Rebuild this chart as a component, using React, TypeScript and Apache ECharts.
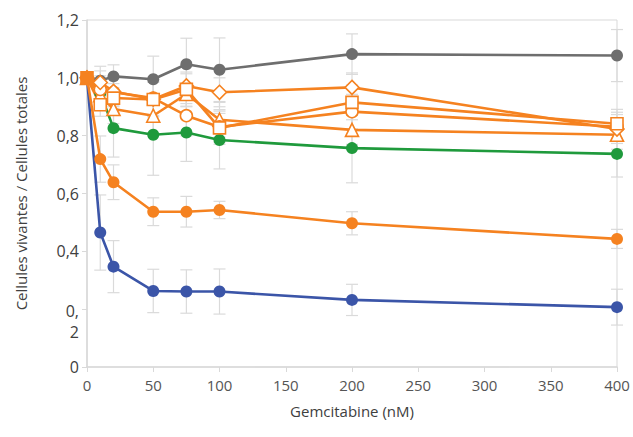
import React, { useEffect, useRef } from "react";
import * as echarts from "echarts";

const doses = [0, 10, 20, 50, 75, 100, 200, 400];
const yTickLabels: Record<string, string> = { "0": "0", "0.2": "0,\n2", "0.4": "0,4", "0.6": "0,6", "0.8": "0,8", "1": "1,0", "1.2": "1,2" };

const blueVals = [1.0, 0.465, 0.347, 0.263, 0.261, 0.261, 0.232, 0.207];
const blueErr = [0, 0.13, 0.09, 0.075, 0.075, 0.078, 0.054, 0.062];
const orangeVals = [1.0, 0.719, 0.639, 0.537, 0.537, 0.543, 0.497, 0.443];
const orangeErr = [0, 0.08, 0.06, 0.048, 0.053, 0.03, 0.04, 0.033];
const greenVals = [1.0, 0.947, 0.826, 0.803, 0.811, 0.785, 0.757, 0.737];
const greenErr = [0, 0.06, 0.1, 0.14, 0.1, 0.1, 0.12, 0.08];
const grayVals = [1.0, 0.99, 1.005, 0.995, 1.047, 1.028, 1.082, 1.077];
const grayErr = [0, 0.05, 0.04, 0.08, 0.09, 0.11, 0.07, 0.09];
const diamondVals = [1.0, 0.984, 0.953, 0.926, 0.972, 0.95, 0.967, 0.823];
const diamondErr = [0, 0.04, 0.05, 0.06, 0.07, 0.05, 0.05, 0.05];
const squareVals = [1.0, 0.907, 0.93, 0.925, 0.96, 0.827, 0.915, 0.841];
const squareErr = [0, 0.04, 0.05, 0.06, 0.06, 0.05, 0.06, 0.05];
const circleVals = [1.0, 0.96, 0.95, 0.93, 0.869, 0.83, 0.883, 0.831];
const circleErr = [0, 0.04, 0.05, 0.06, 0.07, 0.06, 0.06, 0.05];
const triangleVals = [1.0, 0.94, 0.892, 0.869, 0.944, 0.855, 0.82, 0.803];
const triangleErr = [0, 0.04, 0.05, 0.06, 0.07, 0.06, 0.05, 0.05];

const ORANGE = "#f58220";
const BLUE = "#3b55a8";
const GREEN = "#1f9a3c";
const GRAY = "#6e6e6e";
const ERR = "#dadada";

function errSeries(vals: number[], errs: number[]) {
  return {
    type: "custom",
    z: 1,
    silent: true,
    data: doses.map((d, i) => [d, vals[i] - errs[i], vals[i] + errs[i]]),
    renderItem: (params: any, api: any) => {
      const x = api.value(0);
      const lo = api.coord([x, api.value(1)]);
      const hi = api.coord([x, api.value(2)]);
      const hw = 6;
      const style = { stroke: ERR, lineWidth: 1.2 };
      return {
        type: "group",
        children: [
          { type: "line", shape: { x1: lo[0], y1: lo[1], x2: hi[0], y2: hi[1] }, style },
          { type: "line", shape: { x1: lo[0] - hw, y1: lo[1], x2: lo[0] + hw, y2: lo[1] }, style },
          { type: "line", shape: { x1: hi[0] - hw, y1: hi[1], x2: hi[0] + hw, y2: hi[1] }, style },
        ],
      };
    },
  };
}

function lineSeries(vals: number[], color: string, symbol: string, filled: boolean, size: number, firstFilled = false) {
  return {
    type: "line",
    z: 3,
    data: doses.map((d, i) => {
      const item: any = { value: [d, vals[i]] };
      if (firstFilled && i === 0) item.itemStyle = { color: color, borderColor: color };
      return item;
    }),
    symbol,
    symbolSize: size,
    showSymbol: true,
    lineStyle: { color, width: 2.6 },
    itemStyle: filled
      ? { color, borderColor: color, borderWidth: 0 }
      : { color: "#ffffff", borderColor: color, borderWidth: 1.6 },
  };
}

export default function App() {
  const ref = useRef<HTMLDivElement>(null);
  useEffect(() => {
    if (!ref.current) return;
    const chart = echarts.init(ref.current, undefined, { renderer: "svg" });
    const labelColor = "#404040";
    chart.setOption({
      animation: false,
      grid: { left: 87, right: 16, top: 20, bottom: 70, show: true, borderColor: "#d9d9d9", borderWidth: 1 },
      xAxis: {
        type: "value",
        min: 0,
        max: 400,
        interval: 50,
        name: "Gemcitabine (nM)",
        nameLocation: "middle",
        nameGap: 36,
        nameTextStyle: { fontFamily: "Open Sans", fontSize: 15, color: labelColor },
        axisLine: { show: true, lineStyle: { color: "#d9d9d9", width: 1.5 } },
        axisTick: { show: true, length: 5, lineStyle: { color: "#d9d9d9" } },
        axisLabel: { fontFamily: "Open Sans", fontSize: 15, color: "#555555", margin: 10 },
        splitLine: { show: false },
      },
      yAxis: {
        type: "value",
        min: 0,
        max: 1.2,
        interval: 0.2,
        name: "Cellules vivantes / Cellules totales",
        nameLocation: "middle",
        nameGap: 59,
        nameTextStyle: { fontFamily: "Open Sans", fontSize: 15, color: labelColor },
        axisLine: { show: true, lineStyle: { color: "#d9d9d9", width: 1.5 } },
        axisTick: { show: true, length: 5, lineStyle: { color: "#d9d9d9" } },
        axisLabel: {
          fontFamily: "Open Sans",
          fontSize: 16,
          color: labelColor,
          margin: 8,
          lineHeight: 21,
          formatter: (v: number) => {
            const k = String(Math.round(v * 10) / 10);
            const s = yTickLabels[k] ?? String(v);
            return s.indexOf("\n") >= 0 ? "{w|" + s.replace("\n", "}\n{w|") + "}" : s;
          },
          rich: { w: { fontFamily: "Open Sans", fontSize: 16, color: labelColor, lineHeight: 21, padding: [24, 0, 0, 0] } },
        },
        splitLine: { show: false },
      },
      series: [
        errSeries(blueVals, blueErr),
        errSeries(orangeVals, orangeErr),
        errSeries(greenVals, greenErr),
        errSeries(grayVals, grayErr),
        errSeries(diamondVals, diamondErr),
        errSeries(squareVals, squareErr),
        errSeries(circleVals, circleErr),
        errSeries(triangleVals, triangleErr),
        lineSeries(blueVals, BLUE, "circle", true, 12),
        lineSeries(greenVals, GREEN, "circle", true, 12),
        lineSeries(grayVals, GRAY, "circle", true, 12),
        lineSeries(orangeVals, ORANGE, "circle", true, 12),
        lineSeries(triangleVals, ORANGE, "triangle", false, 13),
        lineSeries(circleVals, ORANGE, "circle", false, 12),
        lineSeries(diamondVals, ORANGE, "diamond", false, 14),
        lineSeries(squareVals, ORANGE, "rect", false, 12, true),
      ],
    });
    return () => chart.dispose();
  }, []);
  return <div ref={ref} style={{ width: 633, height: 437, position: "absolute", left: 0, top: 0, background: "#fff" }} />;
}
